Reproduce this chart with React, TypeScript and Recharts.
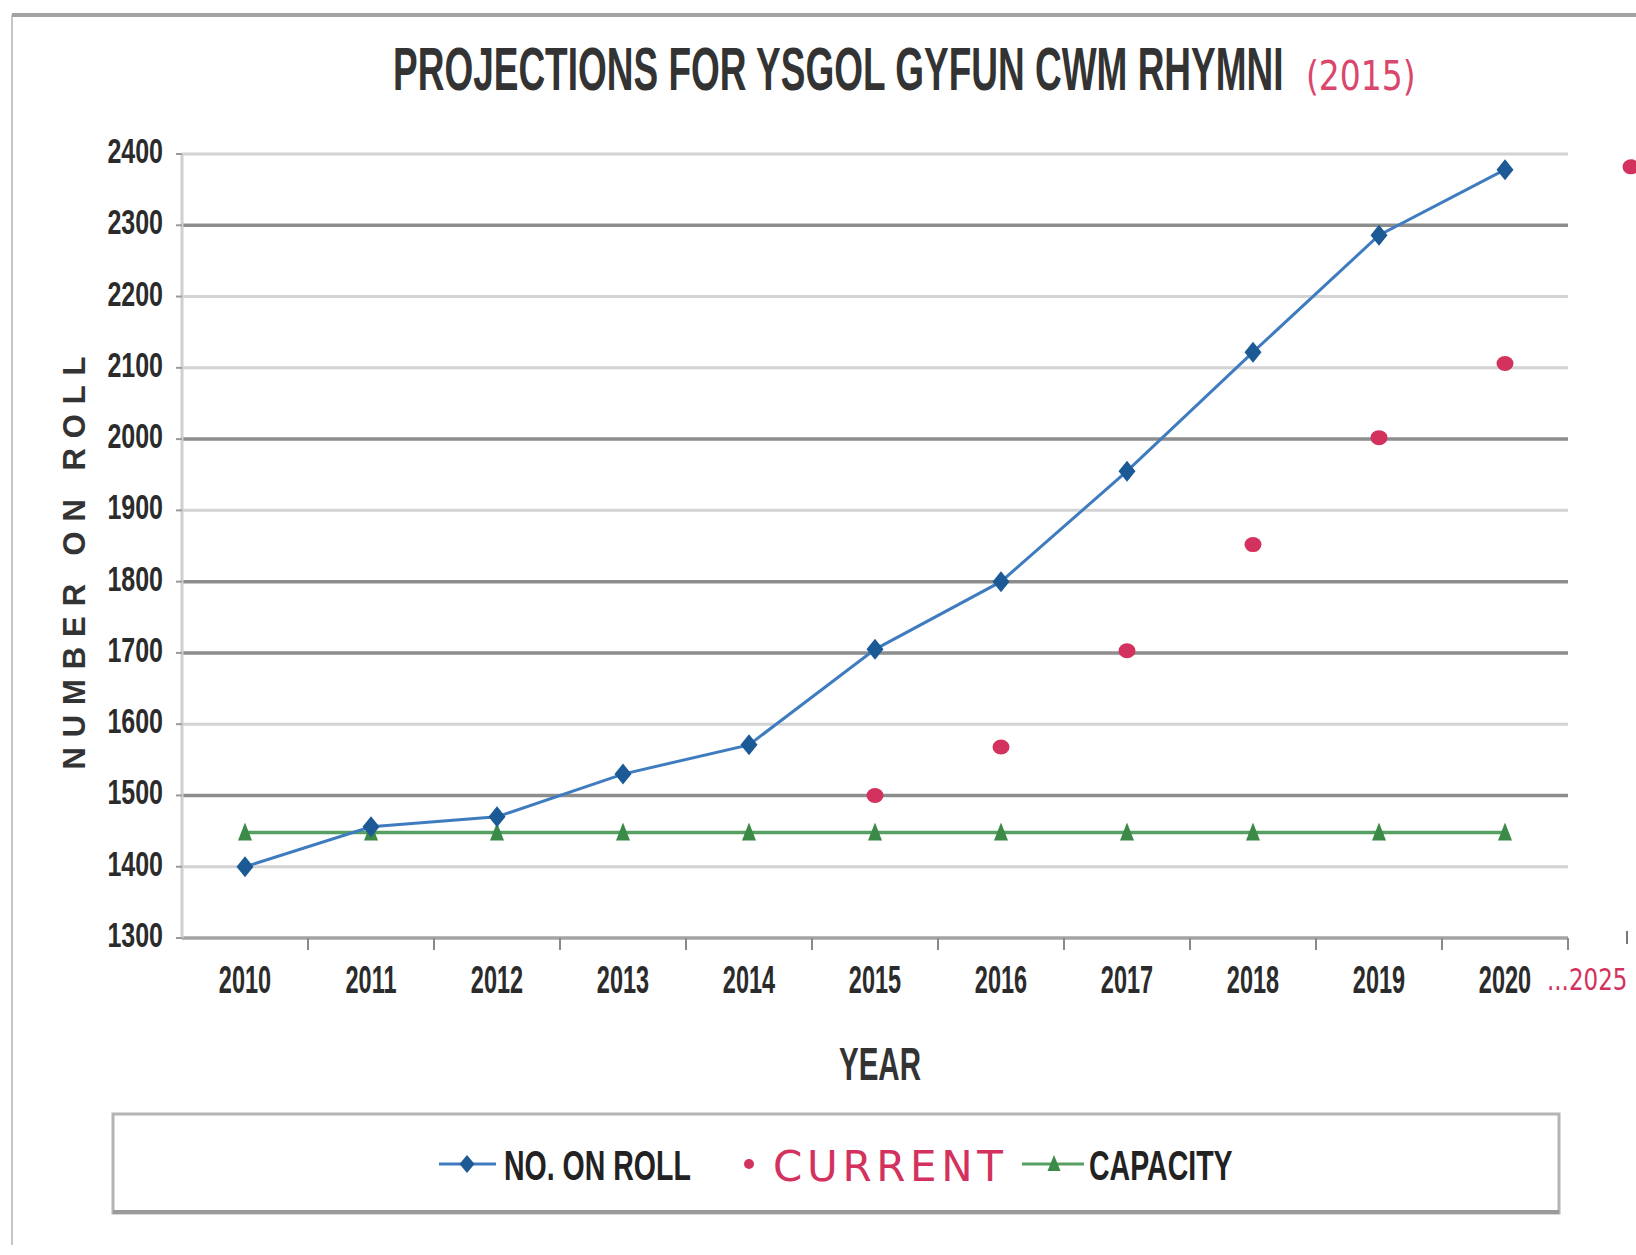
import React from 'react';
import { ComposedChart, Line, XAxis, YAxis, CartesianGrid } from 'recharts';

// ---------- data ----------
const years = ['2010', '2011', '2012', '2013', '2014', '2015', '2016', '2017', '2018', '2019', '2020', '2025'];
const noOnRoll = [1400, 1456, 1470, 1530, 1571, 1705, 1800, 1955, 2122, 2286, 2378, null];
const current = [null, null, null, null, null, 1500, 1568, 1703, 1852, 2002, 2106, 2382];
const capacity = [1448, 1448, 1448, 1448, 1448, 1448, 1448, 1448, 1448, 1448, 1448, null];
const yTicks = [1300, 1400, 1500, 1600, 1700, 1800, 1900, 2000, 2100, 2200, 2300, 2400];

const TITLE = 'PROJECTIONS FOR YSGOL GYFUN CWM RHYMNI';
const TITLE_NOTE = '(2015)';
const Y_LABEL = 'NUMBER ON ROLL';
const X_LABEL = 'YEAR';
const LEGEND_ROLL = 'NO. ON ROLL';
const LEGEND_CURRENT = 'CURRENT';
const LEGEND_CAPACITY = 'CAPACITY';

const data = years.map((y, i) => ({
  year: y,
  noOnRoll: noOnRoll[i],
  current: current[i],
  capacity: capacity[i],
}));

// ---------- layout / style ----------
const PLOT_LEFT = 182;
const PLOT_TOP = 154;
const PLOT_BOTTOM = 938;
const BAND = 126;
const N_MAIN = 11;
const CHART_W = PLOT_LEFT + years.length * BAND;
const CHART_H = 1255;
const XAXIS_H = 80;
const Y_MIN = 1300;
const Y_MAX = 2400;

const BLUE_LINE = '#3f7cbf';
const BLUE_MARK = '#1c5a96';
const GREEN_LINE = '#55a062';
const GREEN_MARK = '#3b8a48';
const PINK = '#d2325d';
const TEXT = '#2b2b2b';
const SANS = "'Liberation Sans', Arial, sans-serif";
const HAND = "'DejaVu Sans', 'Liberation Sans', sans-serif";
const DARK_GRID = new Set([2300, 2000, 1800, 1700, 1500]);

const gridLine = (p: any) => {
  const raw = Y_MAX - ((p.y1 - PLOT_TOP) / (PLOT_BOTTOM - PLOT_TOP)) * (Y_MAX - Y_MIN);
  const v = Math.round(raw / 100) * 100;
  let stroke = '#d3d3d3';
  let sw = 3;
  if (DARK_GRID.has(v)) { stroke = '#8d8d8d'; sw = 3.5; }
  if (v === Y_MIN) { stroke = '#a3a3a3'; sw = 3.5; }
  return (
    <line
      key={`g-${p.index}-${v}`}
      x1={p.x1}
      y1={p.y1}
      x2={p.x1 + N_MAIN * BAND}
      y2={p.y2}
      stroke={stroke}
      strokeWidth={sw}
    />
  );
};

const Diamond = (p: any) => {
  if (p.cx == null || p.cy == null || p.value == null) return <g key={`dm-${p.index}`} />;
  const { cx, cy } = p;
  return (
    <path
      key={`dm-${p.index}`}
      d={`M${cx},${cy - 10.5} L${cx + 8.5},${cy} L${cx},${cy + 10.5} L${cx - 8.5},${cy} Z`}
      fill={BLUE_MARK}
    />
  );
};

const Tri = (p: any) => {
  if (p.cx == null || p.cy == null || p.value == null) return <g key={`tr-${p.index}`} />;
  const { cx, cy } = p;
  return (
    <path
      key={`tr-${p.index}`}
      d={`M${cx},${cy - 10} L${cx + 7},${cy + 8} L${cx - 7},${cy + 8} Z`}
      fill={GREEN_MARK}
    />
  );
};

const Dot = (p: any) => {
  if (p.cx == null || p.cy == null || p.value == null) return <g key={`ct-${p.index}`} />;
  return <ellipse key={`ct-${p.index}`} cx={p.cx} cy={p.cy} rx={8.5} ry={7.5} fill={PINK} />;
};

const XTick = (p: any) => {
  const { x, payload } = p;
  const v = String(payload.value);
  if (v === '2025') {
    return (
      <g>
        <line x1={x - 4} y1={PLOT_BOTTOM - 7} x2={x - 4} y2={PLOT_BOTTOM + 6} stroke="#777" strokeWidth={2} />
        <g transform={`translate(${x - 84}, 990) scale(1, 1.3)`}>
          <text x={0} y={0} fill={PINK} fontFamily={HAND} fontSize={23}>
            {'...' + v}
          </text>
        </g>
      </g>
    );
  }
  return (
    <g>
      <line x1={x + BAND / 2} y1={PLOT_BOTTOM} x2={x + BAND / 2} y2={PLOT_BOTTOM + 12} stroke="#8a8a8a" strokeWidth={2} />
      <g transform={`translate(${x}, 993) scale(1, 1.62)`}>
        <text x={0} y={0} textAnchor="middle" fill={TEXT} fontFamily={SANS} fontWeight={700} fontSize={23.5}>
          {v}
        </text>
      </g>
    </g>
  );
};

const YTick = (p: any) => {
  const { x, y, payload } = p;
  return (
    <g transform={`translate(${x}, ${y + 9}) scale(1, 1.38)`}>
      <text x={0} y={0} textAnchor="end" fill={TEXT} fontFamily={SANS} fontWeight={700} fontSize={25}>
        {payload.value}
      </text>
    </g>
  );
};

const YLabel = () => (
  <text
    transform={`translate(85, 563) rotate(-90)`}
    textAnchor="middle"
    fill="#333"
    fontFamily={SANS}
    fontWeight={700}
    fontSize={31}
    textLength={413}
    lengthAdjust="spacing"
  >
    {Y_LABEL}
  </text>
);

const XLabel = () => (
  <g transform="translate(880, 1080) scale(1, 1.55)">
    <text x={0} y={0} textAnchor="middle" fill="#333" fontFamily={SANS} fontWeight={700} fontSize={29.5}>
      {X_LABEL}
    </text>
  </g>
);

const Overlay = () => (
  <svg
    width={1636}
    height={1255}
    style={{ position: 'absolute', left: 0, top: 0, pointerEvents: 'none' }}
  >
    {/* frame */}
    <line x1={12} y1={15} x2={12} y2={1245} stroke="#c6c6c6" strokeWidth={2} />
    <line x1={12} y1={15} x2={1636} y2={15} stroke="#a2a2a2" strokeWidth={4} />
    {/* title */}
    <g transform="translate(393, 90) scale(1, 1.66)">
      <text x={0} y={0} fill="#333" fontFamily={SANS} fontWeight={700} fontSize={37}>
        {TITLE}
      </text>
    </g>
    <g transform="translate(1306, 90) scale(1, 1.25)">
      <text x={0} y={0} fill="#d9476c" fontFamily={HAND} fontSize={33}>
        {TITLE_NOTE}
      </text>
    </g>
    {/* legend */}
    <rect x={113} y={1114} width={1446} height={99} fill="#fff" stroke="#b4b4b4" strokeWidth={3} />
    <line x1={113} y1={1212} x2={1559} y2={1212} stroke="#9a9a9a" strokeWidth={4} />
    <line x1={439} y1={1164} x2={496} y2={1164} stroke={BLUE_LINE} strokeWidth={3} />
    <path d="M467,1155 L474.5,1164 L467,1173 L459.5,1164 Z" fill={BLUE_MARK} />
    <g transform="translate(504, 1180) scale(1, 1.5)">
      <text x={0} y={0} fill="#222" fontFamily={SANS} fontWeight={700} fontSize={28.5}>
        {LEGEND_ROLL}
      </text>
    </g>
    <circle cx={749} cy={1164} r={5} fill={PINK} />
    <text
      x={773}
      y={1181}
      fill={PINK}
      fontFamily={HAND}
      fontSize={42}
      textLength={230}
      lengthAdjust="spacing"
    >
      {LEGEND_CURRENT}
    </text>
    <line x1={1022} y1={1164} x2={1084} y2={1164} stroke={GREEN_LINE} strokeWidth={3} />
    <path d="M1054,1155 L1060.5,1171 L1047.5,1171 Z" fill={GREEN_MARK} />
    <g transform="translate(1089, 1180) scale(1, 1.5)">
      <text x={0} y={0} fill="#222" fontFamily={SANS} fontWeight={700} fontSize={28.5}>
        {LEGEND_CAPACITY}
      </text>
    </g>
  </svg>
);

export default function App() {
  return (
    <div
      style={{
        position: 'absolute',
        left: 0,
        top: 0,
        width: 1636,
        height: 1255,
        overflow: 'hidden',
        background: '#fff',
      }}
    >
      <div style={{ position: 'absolute', left: 0, top: 0 }}>
        <ComposedChart
          width={CHART_W}
          height={CHART_H}
          data={data}
          margin={{ top: PLOT_TOP, right: 0, left: 0, bottom: CHART_H - PLOT_BOTTOM - XAXIS_H }}
        >
          <CartesianGrid vertical={false} horizontal={gridLine} />
          <XAxis
            dataKey="year"
            type="category"
            scale="band"
            interval={0}
            height={XAXIS_H}
            axisLine={false}
            tickLine={false}
            tick={XTick}
            label={XLabel}
          />
          <YAxis
            type="number"
            domain={[Y_MIN, Y_MAX]}
            ticks={yTicks}
            interval={0}
            width={PLOT_LEFT}
            axisLine={{ stroke: '#cfcfcf', strokeWidth: 3 }}
            tickLine={{ stroke: '#9a9a9a', strokeWidth: 2 }}
            tickSize={6}
            tickMargin={13}
            tick={YTick}
            label={YLabel}
          />
          <Line
            dataKey="capacity"
            stroke={GREEN_LINE}
            strokeWidth={3.5}
            dot={Tri}
            activeDot={false}
            isAnimationActive={false}
          />
          <Line
            dataKey="noOnRoll"
            stroke={BLUE_LINE}
            strokeWidth={3}
            dot={Diamond}
            activeDot={false}
            isAnimationActive={false}
          />
          <Line
            dataKey="current"
            stroke="none"
            strokeWidth={0}
            dot={Dot}
            activeDot={false}
            isAnimationActive={false}
          />
        </ComposedChart>
      </div>
      <Overlay />
    </div>
  );
}
